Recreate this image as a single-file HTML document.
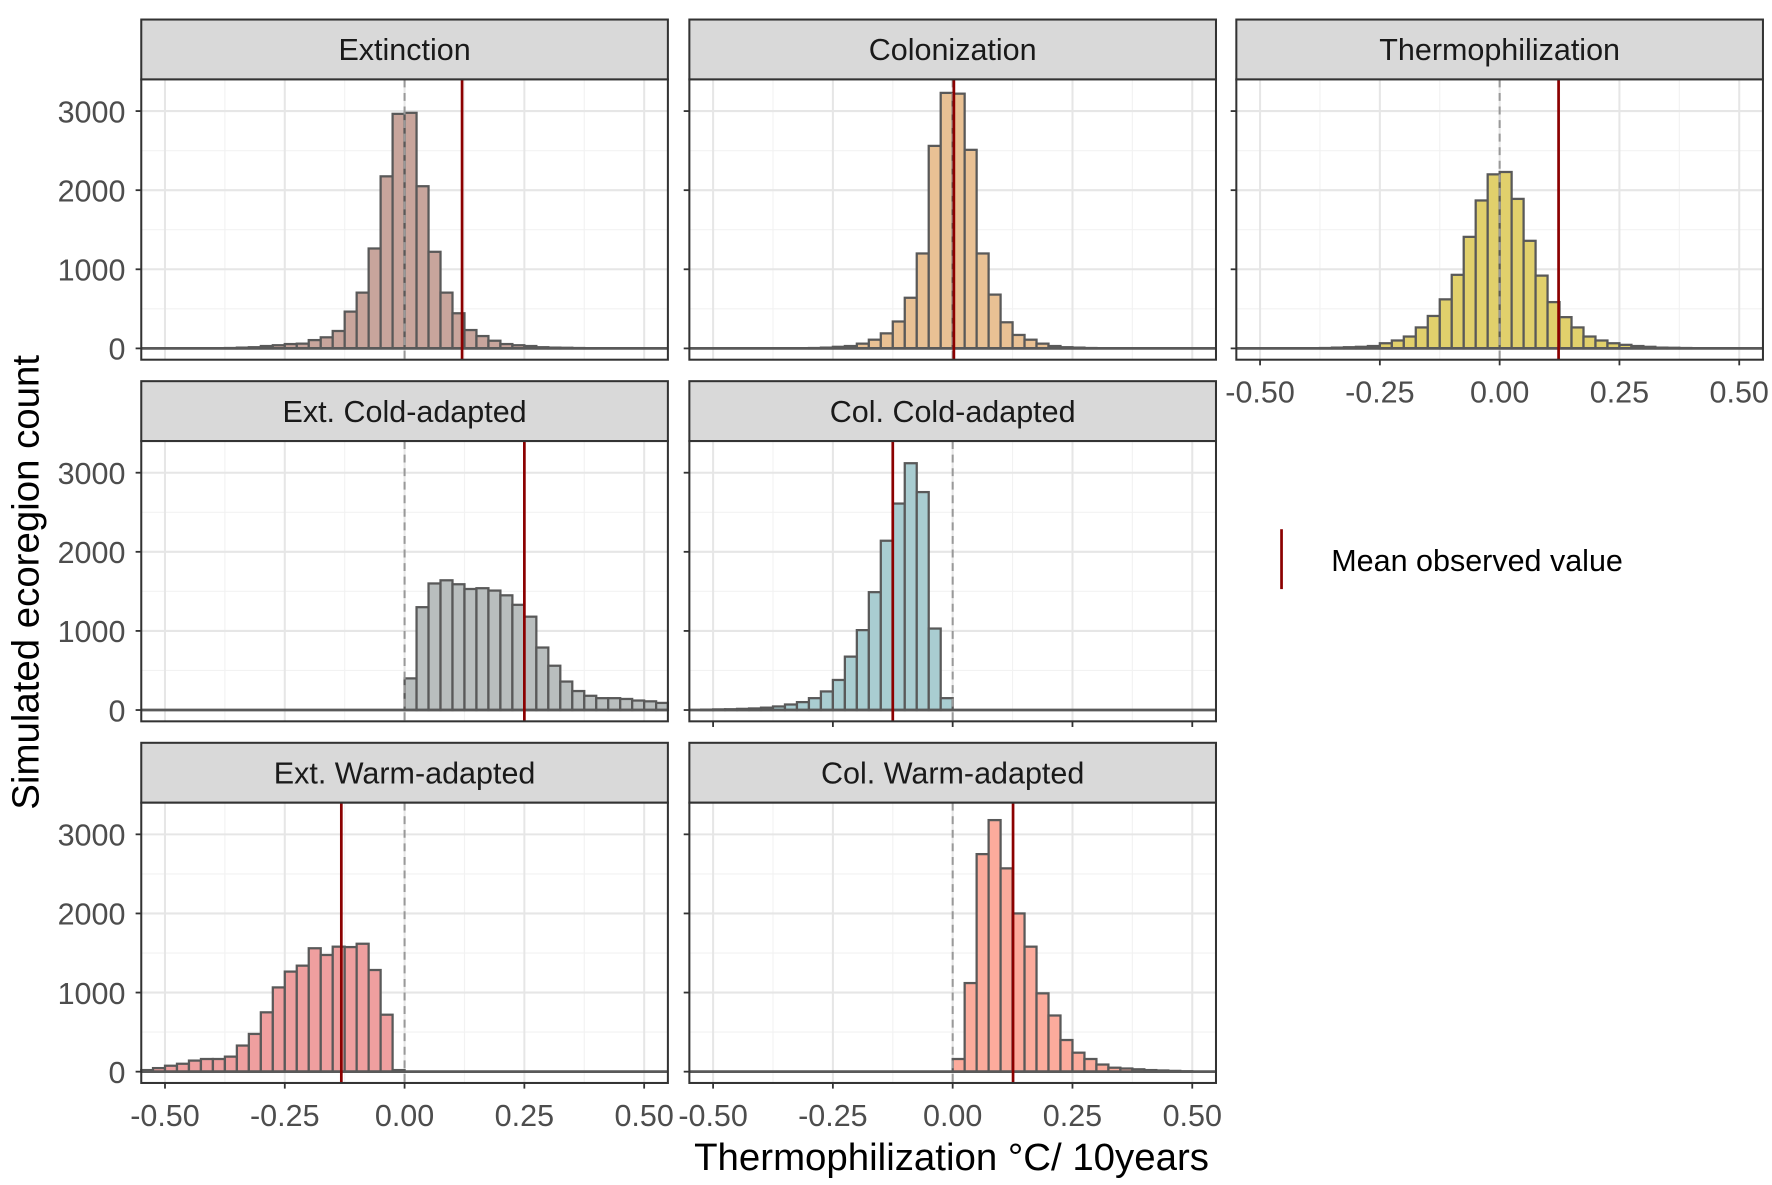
<!DOCTYPE html>
<html><head><meta charset="utf-8"><style>
html,body{margin:0;padding:0;background:#fff;}
svg{display:block;}
text{font-family:"Liberation Sans",Arial,sans-serif;}
.tk{font-size:27px;fill:#4d4d4d;}
.st{font-size:27px;fill:#1a1a1a;text-anchor:middle;}
</style></head><body>
<svg id="s" width="1772" height="1185" viewBox="0 0 1568 1048" xmlns="http://www.w3.org/2000/svg">
<rect width="1568" height="1048" fill="#fff"/>
<g id="plots"></g>
<g class="st">
<text x="358" y="53">Extinction</text>
<text x="843" y="53">Colonization</text>
<text x="1327" y="53">Thermophilization</text>
<text x="358" y="373">Ext. Cold-adapted</text>
<text x="843" y="373">Col. Cold-adapted</text>
<text x="358" y="693">Ext. Warm-adapted</text>
<text x="843" y="693">Col. Warm-adapted</text>
</g>
<g class="tk" text-anchor="end">
<text x="111" y="108">3000</text><text x="111" y="178">2000</text><text x="111" y="248">1000</text><text x="111" y="318">0</text>
<text x="111" y="428">3000</text><text x="111" y="498">2000</text><text x="111" y="568">1000</text><text x="111" y="638">0</text>
<text x="111" y="748">3000</text><text x="111" y="818">2000</text><text x="111" y="888">1000</text><text x="111" y="958">0</text>
</g>
<g class="tk" text-anchor="middle">
<text x="146" y="996">-0.50</text><text x="252" y="996">-0.25</text><text x="358" y="996">0.00</text><text x="464" y="996">0.25</text><text x="570" y="996">0.50</text>
<text x="631" y="996">-0.50</text><text x="737" y="996">-0.25</text><text x="843" y="996">0.00</text><text x="949" y="996">0.25</text><text x="1055" y="996">0.50</text>
<text x="1115" y="356">-0.50</text><text x="1221" y="356">-0.25</text><text x="1327" y="356">0.00</text><text x="1433" y="356">0.25</text><text x="1539" y="356">0.50</text>
</g>
<text x="842" y="1035" text-anchor="middle" style="font-size:34px;fill:#000">Thermophilization °C/ 10years</text>
<text transform="translate(34,515) rotate(-90)" text-anchor="middle" style="font-size:34px;fill:#000">Simulated ecoregion count</text>
<line x1="1134" y1="468" x2="1134" y2="521" stroke="#8b0000" stroke-width="2.4"/>
<text x="1178" y="505" style="font-size:27px;fill:#000">Mean observed value</text>
</svg>
<script>
var NS="http://www.w3.org/2000/svg";
var G=document.getElementById("plots");
function el(t,a){var e=document.createElementNS(NS,t);for(var k in a)e.setAttribute(k,a[k]);G.appendChild(e);return e;}
function panel(x0,y0,start,counts,fill,mean,xticks){
 var W=466,H=248,zx=x0+233,base=y0+238;
 function X(v){return zx+v*424;} function Y(c){return base-c*0.07;}
 el("rect",{x:x0,y:y0-53,width:W,height:53,fill:"#d9d9d9",stroke:"#333","stroke-width":1.8});
 el("rect",{x:x0,y:y0,width:W,height:H,fill:"#fff"});
 for(var v=-0.375;v<=0.4;v+=0.25) el("line",{x1:X(v),x2:X(v),y1:y0,y2:y0+H,stroke:"#f2f2f2","stroke-width":1});
 for(var c=500;c<=3000;c+=1000) el("line",{x1:x0,x2:x0+W,y1:Y(c),y2:Y(c),stroke:"#f2f2f2","stroke-width":1});
 for(var v=-0.5;v<=0.51;v+=0.25) el("line",{x1:X(v),x2:X(v),y1:y0,y2:y0+H,stroke:"#e6e6e6","stroke-width":1.8});
 for(var c=0;c<=3000;c+=1000) el("line",{x1:x0,x2:x0+W,y1:Y(c),y2:Y(c),stroke:"#e6e6e6","stroke-width":1.8});
 for(var i=0;i<counts.length;i++){
  var a=start+i*0.025,b=a+0.025,xa=Math.max(X(a),x0),xb=Math.min(X(b),x0+W);
  if(xb<=xa)continue;
  var h=counts[i]*0.07;
  el("rect",{x:xa,y:base-h,width:xb-xa,height:h,fill:fill,stroke:"#595959","stroke-width":2});
 }
 el("line",{x1:x0,x2:x0+W,y1:base,y2:base,stroke:"#595959","stroke-width":2.4});
 el("line",{x1:zx,x2:zx,y1:y0,y2:y0+H,stroke:"#999","stroke-width":1.8,"stroke-dasharray":"7,5"});
 el("line",{x1:X(mean),x2:X(mean),y1:y0,y2:y0+H,stroke:"#8b0000","stroke-width":2.4});
 el("rect",{x:x0,y:y0,width:W,height:H,fill:"none",stroke:"#333","stroke-width":1.8});
 for(var c=0;c<=3000;c+=1000) el("line",{x1:x0-5,x2:x0,y1:Y(c),y2:Y(c),stroke:"#333","stroke-width":1.6});
 if(xticks) for(var v=-0.5;v<=0.51;v+=0.25) el("line",{x1:X(v),x2:X(v),y1:y0+H,y2:y0+H+5,stroke:"#333","stroke-width":1.6});
}
var ext=[5,10,15,30,40,55,60,105,140,220,465,705,1263,2175,2965,2978,2050,1221,705,444,232,156,97,55,40,30,15,10,8,5,3];
panel(125,70,-0.375,ext,"#c8a59c",0.12,false);
var col=[5,10,20,30,60,110,190,340,640,1200,2560,3230,3220,2510,1200,680,330,170,110,60,30,15,10,5];
panel(610,70,-0.3,col,"#e9c194",0.0025,false);
var th=[5,10,15,20,30,65,100,150,265,410,620,930,1410,1870,2200,2230,1890,1360,920,585,395,265,150,100,65,45,30,20,10,8,5];
panel(1094,70,-0.375,th,"#e1d06c",0.123,true);
var ec=[400,1300,1600,1640,1590,1530,1540,1510,1450,1330,1180,790,560,360,240,180,150,150,140,120,110,90,80];
panel(125,390,0,ec,"#b9bebe",0.25,false);
var cc=[5,8,10,15,20,30,45,70,100,150,235,380,675,1010,1490,2140,2610,3120,2755,1030,150];
panel(610,390,-0.525,cc,"#a9cdd1",-0.125,true);
var ew=[20,45,75,100,140,160,160,190,330,477,750,1065,1265,1340,1560,1475,1580,1575,1617,1285,720,20];
panel(125,710,-0.55,ew,"#ef9f9f",-0.132,true);
var cw=[160,1120,2750,3180,2570,2000,1580,990,710,400,240,160,90,50,40,30,20,15,10,5];
panel(610,710,0,cw,"#fcab9c",0.126,true);
</script>
</body></html>
